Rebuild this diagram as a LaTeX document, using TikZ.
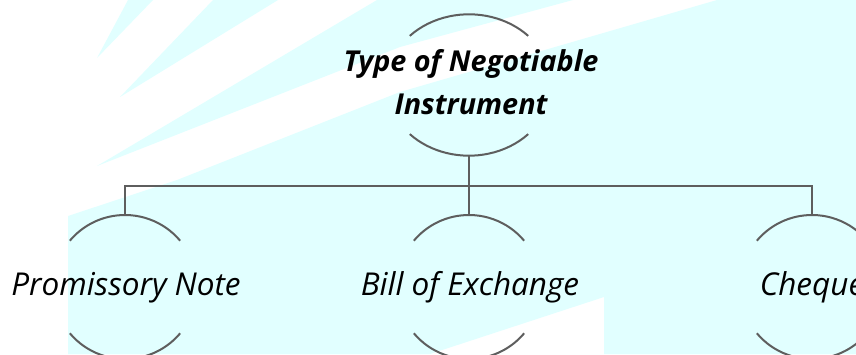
\documentclass[tikz,border=0pt]{standalone}
\usepackage{fontspec}
\setmainfont{Open Sans}
\usetikzlibrary{shapes.geometric}
\definecolor{bgcyan}{HTML}{E1FFFF}
\definecolor{linegray}{HTML}{5E5E5E}
\begin{document}
\begin{tikzpicture}[x=1pt,y=1pt,
  conn/.style={draw=linegray, line width=2.4pt},
  rim/.style={draw=linegray, line width=2pt},
  childtext/.style={font=\fontsize{31.5}{38}\selectfont\itshape, anchor=base, inner sep=0pt},
  toptext/.style={font=\fontsize{28.8}{35}\selectfont\bfseries\itshape, anchor=base, inner sep=0pt},
  shapenode/.style={inner sep=0pt, draw=none}]
\useasboundingbox (0,0) rectangle (856,354);
\fill[white] (0,0) rectangle (856,354);
% background rays
\fill[bgcyan] (97,296) -- (128,354) -- (153,354) -- cycle;
\fill[bgcyan] (120,257) -- (213,354) -- (278,354) -- cycle;
\fill[bgcyan] (97,188) -- (377,354) -- (573,354) -- (400,307) -- cycle;
\fill[bgcyan] (68,0) -- (68,138) -- (177,174) -- (400,262) -- (717,354) -- (856,354)
  -- (856,0) -- (604,0) -- (604,57) -- (430,0) -- cycle;
% shape nodes
\node[shapenode, ellipse, minimum width=164.6pt, minimum height=141.4pt] (root) at (469,269) {};
\node[shapenode, circle, minimum size=144pt] (pn) at (125,67) {};
\node[shapenode, circle, minimum size=144pt] (be) at (469,67) {};
\node[shapenode, circle, minimum size=144pt] (ch) at (812,67) {};
% rims
\draw[rim] (root.center) ++(44:82.3 and 70.7) arc[start angle=44, end angle=136, x radius=82.3, y radius=70.7];
\draw[rim] (root.center) ++(224:82.3 and 70.7) arc[start angle=224, end angle=316, x radius=82.3, y radius=70.7];
\foreach \n in {pn,be,ch}{
  \draw[rim] (\n.center) ++(40:72) arc[start angle=40, end angle=140, radius=72];
  \draw[rim] (\n.center) ++(220:72) arc[start angle=220, end angle=320, radius=72];
}
% connectors
\coordinate (bus) at (469,168);
\coordinate (barL) at (pn.north |- bus);
\coordinate (barR) at (ch.north |- bus);
\draw[conn] (root.south) -- (be.north);
\draw[conn] (pn.north) -- (barL) -- (barR) -- (ch.north);
% texts
\node[toptext] (t1) at (471,282) {Type of Negotiable};
\node[toptext] (t2) at (471,239) {Instrument};
\node[childtext] (pnt) at (126,59) {Promissory Note};
\node[childtext] (bet) at (470,59) {Bill of Exchange};
\node[childtext] (cht) at (812,59) {Cheque};
\end{tikzpicture}
\end{document}
